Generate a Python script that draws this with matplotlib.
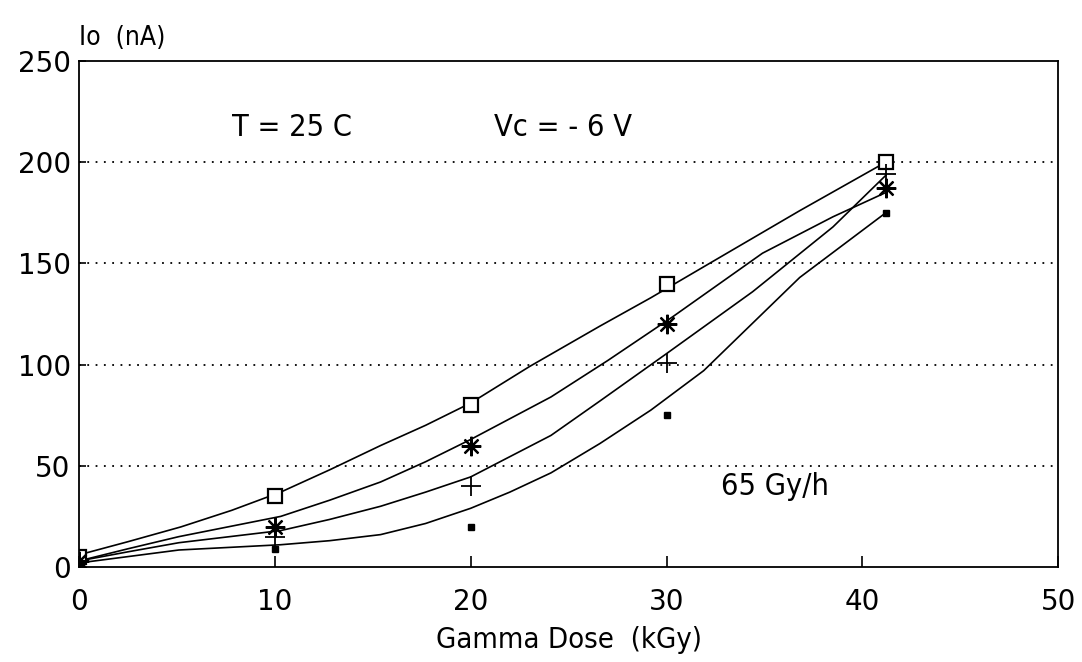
import numpy as np
import matplotlib.pyplot as plt

# measured points
dose = [0, 10, 20, 30, 41.2]
io_square = [5, 35, 80, 140, 200]
io_star = [3, 20, 60, 120, 187]
io_plus = [3, 15, 40, 101, 194]
io_dot = [2, 9, 20, 75, 175]

# fitted curves
fit_x_sq = [0, 2.5, 5.2, 7.8, 10.3, 12.8, 15.4, 17.7, 20, 23, 26.6, 29.2, 32.2, 36.8, 41.2]
fit_y_sq = [6, 12.5, 19.8, 28, 37, 48, 60, 70, 81, 99, 119, 133, 150, 176, 200]
fit_x_st = [0, 2.5, 5.1, 7.7, 10.3, 12.8, 15.4, 17.7, 20, 24.1, 27, 30.3, 34.9, 38.5, 41.2]
fit_y_st = [3, 9, 15, 20, 25, 33, 42, 52, 63, 84, 102, 123.5, 155, 173, 185]
fit_x_pl = [0, 2.5, 5.1, 7.7, 10.3, 12.8, 15.4, 17.7, 20, 24.1, 26.6, 29.9, 34.4, 38.5, 41.2]
fit_y_pl = [3, 7.5, 12, 15, 18, 23.5, 30, 37, 44.5, 65, 82, 104.7, 136, 168, 193.5]
fit_x_dt = [0, 5.1, 10.3, 12.8, 15.4, 17.7, 20, 22, 24.1, 26.6, 29.2, 31.9, 36.8, 41.2]
fit_y_dt = [2, 8.4, 11, 13, 16, 21.5, 29, 37, 46.5, 61, 77.5, 97, 143, 175]

x_ticks = [0, 10, 20, 30, 40, 50]
y_ticks = [0, 50, 100, 150, 200, 250]
grid_levels = [50, 100, 150, 200]

plt.rcParams['font.family'] = ['DejaVu Sans']
cond = dict(family='DejaVu Sans', stretch='condensed')

fig = plt.figure(figsize=(10.82, 6.62), dpi=100)
ax = fig.add_axes([0.073, 0.1435, 0.905, 0.7645])

for gy in grid_levels:
    ax.axhline(gy, color='black', lw=1.3, ls=(0, (1, 3.6)), zorder=1)

for fx, fy in [(fit_x_sq, fit_y_sq), (fit_x_st, fit_y_st),
               (fit_x_pl, fit_y_pl), (fit_x_dt, fit_y_dt)]:
    ax.plot(fx, fy, color='black', lw=1.2, zorder=2)

ax.plot(dose, io_square, ls='none', marker='s', ms=10, mfc='white', mec='black', mew=1.6, zorder=3)
ax.plot(dose, io_star, ls='none', marker=(8, 2, 0), ms=14, mec='black', mew=1.6, zorder=3)
ax.plot(dose, io_plus, ls='none', marker='+', ms=14, mec='black', mew=1.3, zorder=3)
ax.plot(dose, io_dot, ls='none', marker='s', ms=4, mfc='black', mec='black', zorder=3)

ax.set_xlim(0, 50)
ax.set_ylim(0, 250)
ax.set_xticks(x_ticks)
ax.set_yticks(y_ticks)
ax.tick_params(direction='in', width=1.2, labelsize=20)
ax.tick_params(axis='x', length=8, pad=15)
ax.tick_params(axis='y', length=5, pad=6)
for s in ax.spines.values():
    s.set_linewidth(1.3)

ax.set_xlabel('Gamma Dose  (kGy)', fontsize=21, labelpad=7, **cond)
ax.text(0.0, 1.02, 'Io  (nA)', transform=ax.transAxes, fontsize=19,
        ha='left', va='bottom', **cond)

ax.text(7.8, 217, 'T = 25 C', fontsize=22, ha='left', va='center', **cond)
ax.text(21.2, 217, 'Vc = - 6 V', fontsize=22, ha='left', va='center', **cond)
ax.text(32.8, 40, '65 Gy/h', fontsize=22, ha='left', va='center', **cond)

fig.savefig('out.png', dpi=100)
